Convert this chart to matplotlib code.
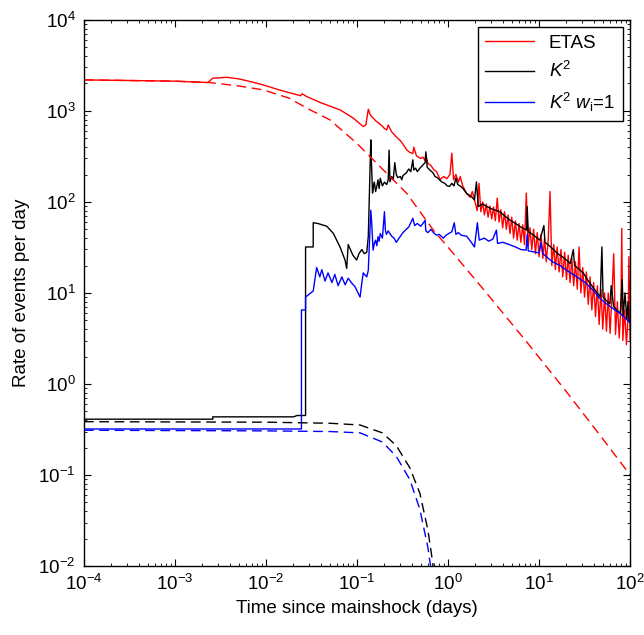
import matplotlib
matplotlib.use("Agg")
import matplotlib.pyplot as plt
from matplotlib.ticker import FixedLocator, FixedFormatter, NullFormatter

plt.rcParams['font.family'] = ['Liberation Sans', 'DejaVu Sans']
plt.rcParams['mathtext.fontset'] = 'custom'
plt.rcParams['mathtext.rm'] = 'Liberation Sans'
plt.rcParams['mathtext.it'] = 'Liberation Sans:italic'
plt.rcParams['mathtext.bf'] = 'Liberation Sans:bold'

# ETAS model rate (red, solid)
etas_t = [1e-4, 3e-4, 1e-3, 2.3e-3, 2.6e-3, 2.9e-3, 3.7e-3, 5e-3, 7e-3, 9.3e-3,
          0.014, 0.02, 0.024, 0.025, 0.028, 0.04, 0.065, 0.09, 0.117, 0.125,
          0.133, 0.14, 0.16, 0.19, 0.2, 0.212, 0.22, 0.24, 0.26, 0.28,
          0.3, 0.32, 0.352, 0.38, 0.41, 0.42, 0.45, 0.5, 0.53, 0.56,
          0.57, 0.6, 0.65, 0.7, 0.75, 0.817, 0.86, 0.9, 0.97, 1.05,
          1.1, 1.15, 1.22, 1.3, 1.36, 1.45, 1.6, 1.75, 1.85, 1.95,
          2.0, 2.09, 2.19, 2.29, 2.40, 2.51, 2.63, 2.75, 2.88, 3.02,
          3.16, 3.31, 3.47, 3.63, 3.80, 3.98, 4.17, 4.37, 4.57, 4.79,
          5.01, 5.25, 5.50, 5.75, 6.03, 6.31, 6.61, 6.92, 7.24, 7.59,
          7.94, 8.32, 8.71, 9.12, 9.55, 10.0, 10.5, 11.0, 11.5, 12.0,
          12.6, 13.2, 13.8, 14.5, 15.1, 15.8, 16.6, 17.4, 18.2, 19.1,
          20.0, 20.9, 21.9, 22.9, 24.0, 25.1, 26.3, 27.5, 28.8, 30.2,
          31.6, 33.1, 34.7, 36.3, 38.0, 39.8, 41.7, 43.7, 45.7, 47.9,
          50.1, 52.5, 55.0, 57.5, 60.3, 63.1, 66.1, 69.2, 72.4, 75.9,
          79.4, 81.0, 83.2, 87.1, 91.2, 95.5, 97.0, 100]
etas_r = [2190, 2160, 2120, 2050, 2290, 2300, 2340, 2250, 2080, 1930,
          1700, 1540, 1470, 1540, 1436, 1230, 1026, 840, 673, 700,
          1045, 900, 780, 680, 640, 618, 700, 590, 540, 500,
          470, 430, 372, 350, 340, 400, 320, 300, 310, 285,
          330, 266, 250, 225, 215, 175, 185, 190, 180, 200,
          343, 175, 200, 165, 190, 150, 124, 112, 130, 105,
          95, 80, 160, 78, 100, 72, 95, 68, 90, 65,
          88, 62, 110, 60, 82, 52, 78, 50, 72, 45,
          68, 40, 62, 38, 58, 36, 56, 34, 125, 32,
          52, 30, 50, 27, 46, 25, 44, 24, 40, 22,
          38, 130, 20, 34, 18, 32, 17, 30, 15, 28,
          14, 26, 13, 24, 12, 22, 11, 32, 10, 19,
          9, 17, 7.5, 15, 6.5, 13, 5.5, 12, 4.5, 11,
          4.0, 10, 3.8, 10, 3.6, 9, 27, 3.5, 8, 3.2,
          7, 51, 3.0, 6.5, 2.7, 6, 25, 3.0]

# ETAS background-free decay (red, dashed)
etas_fit_t = [1e-4, 1e-3, 2.43e-3, 5e-3, 9.3e-3, 0.018, 0.028, 0.0505, 0.099, 0.179,
              0.352, 0.689, 1.05, 2.44, 7.3, 20, 50, 100]
etas_fit_r = [2190, 2120, 2046, 1880, 1702, 1380, 1072, 796, 442, 244,
              124, 49, 30, 11, 2.9, 0.82, 0.25, 0.1]

# K^2 rate (black, solid)
k2_t = [1e-4, 2.6e-3, 2.6e-3, 0.02, 0.022, 0.0272, 0.0272, 0.033, 0.033, 0.037,
        0.0465, 0.055, 0.065, 0.0738, 0.077, 0.08, 0.09, 0.099, 0.105, 0.113,
        0.12, 0.128, 0.133, 0.1416, 0.144, 0.148, 0.152, 0.155, 0.16, 0.165,
        0.17, 0.175, 0.18, 0.19, 0.2, 0.212, 0.22, 0.225, 0.23, 0.24,
        0.25, 0.26, 0.27, 0.28, 0.3, 0.31, 0.32, 0.34, 0.35, 0.37,
        0.39, 0.41, 0.42, 0.44, 0.46, 0.49, 0.52, 0.56, 0.57, 0.59,
        0.63, 0.68, 0.72, 0.76, 0.81, 0.86, 0.92, 0.98, 1.04, 1.1,
        1.16, 1.22, 1.28, 1.38, 1.46, 1.6, 1.8, 1.95, 2.05, 2.15,
        2.4, 2.66, 3.0, 3.7, 4.2, 4.8, 5.5, 6.3, 7.3, 7.4, 7.6, 8.5,
        10.2, 11.3, 11.6, 12.5, 14.4, 16, 18, 20, 22, 23.8, 24.5, 27,
        30.7, 34, 38, 42, 47, 49, 50.5, 55, 60, 62, 66, 72, 78, 82,
        84, 88, 92, 95, 97, 100]
k2_r = [0.41, 0.41, 0.435, 0.435, 0.45, 0.45, 32, 32, 59, 58,
        54, 45, 32, 23, 18.6, 34, 26, 23, 27, 30,
        27, 28, 42, 480, 275, 125, 150, 165, 130, 148,
        175, 140, 182, 150, 165, 155, 175, 370, 166, 190,
        175, 270, 200, 185, 190, 175, 195, 205, 210, 230,
        215, 290, 224, 235, 215, 234, 250, 270, 355, 240,
        224, 210, 190, 185, 174, 165, 160, 150, 148, 160,
        150, 182, 155, 148, 140, 124, 115, 105, 166, 89,
        95, 89, 84, 78, 70, 63, 58, 53, 49, 89, 47, 44,
        38, 55, 36, 34, 30, 27, 25, 23, 21, 30, 20, 18.5,
        16.5, 14, 12, 10.5, 9.1, 32, 9, 8.2, 7.6, 12, 7.1, 6.4, 6, 14,
        5.6, 10, 5.2, 8, 5.0, 4.8]

# K^2 rate with w_i = 1 (blue, solid)
k2w_t = [1e-4, 0.0245, 0.0245, 0.0272, 0.0272, 0.033, 0.033, 0.036, 0.039, 0.041,
         0.0445, 0.048, 0.053, 0.057, 0.062, 0.068, 0.074, 0.08, 0.087, 0.095,
         0.108, 0.113, 0.117, 0.128, 0.133, 0.1416, 0.145, 0.15, 0.155, 0.16,
         0.165, 0.17, 0.175, 0.18, 0.19, 0.2, 0.205, 0.21, 0.22, 0.24,
         0.255, 0.27, 0.285, 0.3, 0.32, 0.34, 0.37, 0.41, 0.43, 0.46,
         0.5, 0.53, 0.56, 0.57, 0.6, 0.65, 0.69, 0.75, 0.8, 0.89,
         0.95, 1.02, 1.1, 1.17, 1.22, 1.3, 1.4, 1.6, 1.8, 1.95,
         2.1, 2.2, 2.5, 2.8, 3.1, 3.4, 3.5, 4.0, 4.7, 5.5,
         6.3, 7.2, 7.4, 7.6, 10, 10.5, 11, 14, 17, 20,
         26, 32.5, 40, 46, 55, 64, 80, 100]
k2w_r = [0.32, 0.32, 6.5, 6.5, 9, 10.5, 10.5, 19, 15, 18,
         13.5, 16.6, 13, 16, 12, 15, 12.3, 14.5, 12.9, 11.7,
         9, 13, 16.6, 15, 17.8, 81, 59, 29.5, 35, 38,
         33, 41.5, 37, 45, 40, 78, 49, 44, 48, 42,
         40, 36, 39, 42, 46, 49, 53, 66, 55, 58,
         54, 58, 63, 48, 46, 50, 46, 43, 44, 40,
         43, 45, 47, 59, 44, 46, 43, 42, 36, 32,
         59, 38, 40, 37, 39, 49, 35, 36, 34, 32,
         30, 29.5, 44, 29, 27.5, 36, 27, 22, 20, 17.8,
         15, 12.9, 10.5, 8.8, 7.6, 6.8, 5.8, 4.7]

# K^2 fitted decay (dashed)
k2_fit_t = [1e-4, 1e-2, 0.05, 0.108, 0.19, 0.27, 0.38, 0.49, 0.6, 0.68, 0.7]
k2_fit_r = [0.385, 0.38, 0.37, 0.354, 0.29, 0.21, 0.12, 0.063, 0.025, 0.0107, 0.008]
k2w_fit_t = [1e-4, 1e-2, 0.05, 0.108, 0.19, 0.27, 0.38, 0.49, 0.6, 0.64, 0.66]
k2w_fit_r = [0.31, 0.305, 0.3, 0.29, 0.23, 0.16, 0.089, 0.042, 0.016, 0.0103, 0.008]

decades = [-4, -3, -2, -1, 0, 1, 2]
x_ticks = [10.0 ** d for d in decades]
x_labels = ['$10^{%d}$' % d for d in decades]
y_decades = [-2, -1, 0, 1, 2, 3, 4]
y_ticks = [10.0 ** d for d in y_decades]
y_labels = ['$10^{%d}$' % d for d in y_decades]

fig = plt.figure(figsize=(6.44, 6.35), dpi=100)
ax = fig.add_axes([0.1304, 0.1087, 0.848, 0.860])

lw = 1.0
dash = (0, (7, 4))
h1, = ax.plot(etas_t, etas_r, color='red', lw=lw, label='ETAS')
h2, = ax.plot(k2_t, k2_r, color='black', lw=lw, label='$K^2$')
h3, = ax.plot(k2w_t, k2w_r, color='blue', lw=lw, label='$K^2\\ w_{\\mathrm{i}}$=1')
ax.plot(etas_fit_t, etas_fit_r, color='red', lw=lw, ls=dash)
ax.plot(k2_fit_t, k2_fit_r, color='black', lw=lw, ls=dash)
ax.plot(k2w_fit_t, k2w_fit_r, color='blue', lw=lw, ls=dash)

ax.set_xscale('log')
ax.set_yscale('log')
ax.set_xlim(1e-4, 1e2)
ax.set_ylim(1e-2, 1e4)

minor_x = [m * 10.0 ** d for d in decades[:-1] for m in range(2, 10)]
minor_y = [m * 10.0 ** d for d in y_decades[:-1] for m in range(2, 10)]
ax.xaxis.set_major_locator(FixedLocator(x_ticks))
ax.xaxis.set_major_formatter(FixedFormatter(x_labels))
ax.yaxis.set_major_locator(FixedLocator(y_ticks))
ax.yaxis.set_major_formatter(FixedFormatter(y_labels))
ax.xaxis.set_minor_locator(FixedLocator(minor_x))
ax.yaxis.set_minor_locator(FixedLocator(minor_y))
ax.xaxis.set_minor_formatter(NullFormatter())
ax.yaxis.set_minor_formatter(NullFormatter())
ax.tick_params(which='both', direction='in', top=True, right=True, labelsize=13.5)
ax.tick_params(which='major', length=5, width=0.8, pad=6)
ax.tick_params(which='minor', length=2.5, width=0.6)
for s in ax.spines.values():
    s.set_linewidth(1.0)

ax.set_xlabel('Time since mainshock (days)', fontsize=13.5, labelpad=4)
ax.set_ylabel('Rate of events per day', fontsize=13.5, labelpad=6)

leg = ax.legend(handles=[h1, h2, h3], loc='upper right', fontsize=13.5,
                fancybox=False, framealpha=1, edgecolor='black',
                handlelength=2.6, borderaxespad=0.4, labelspacing=0.5)
leg.get_frame().set_linewidth(1.0)

fig.savefig('out.png', dpi=100)
